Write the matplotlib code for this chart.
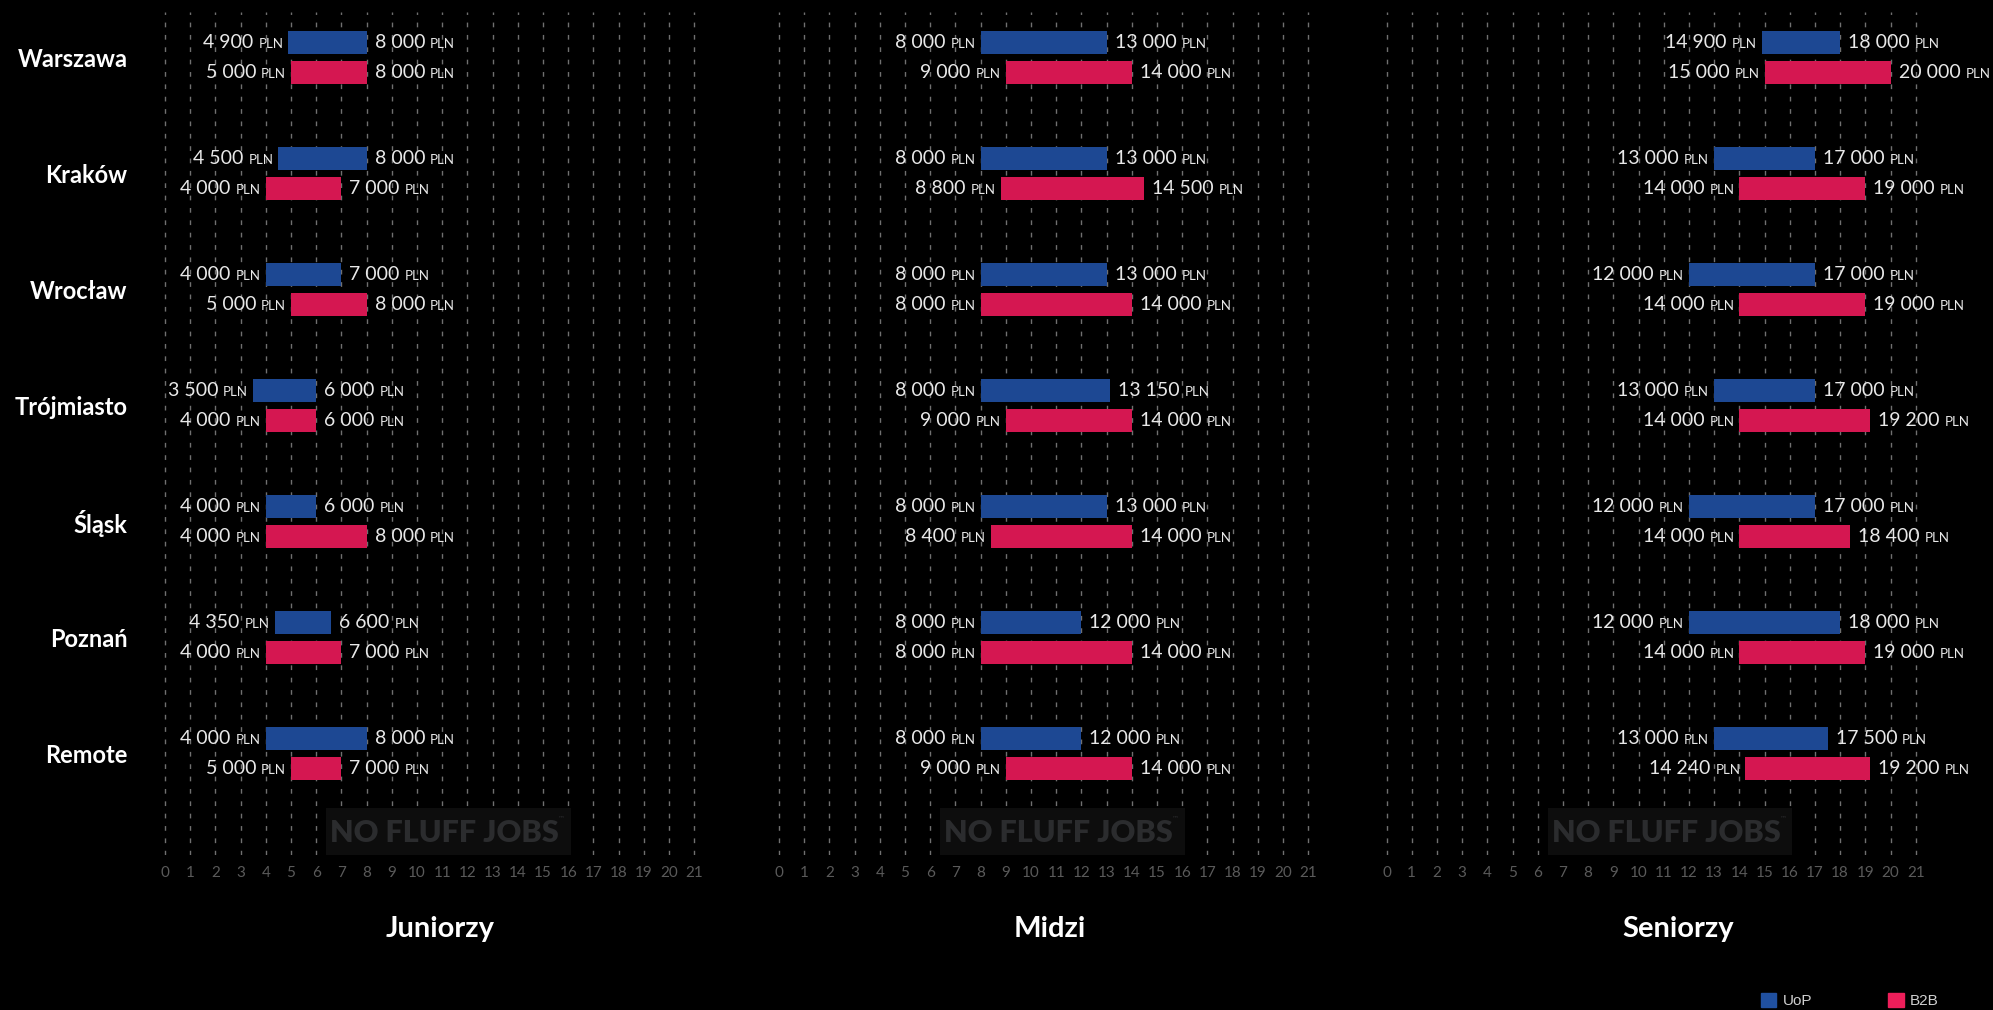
import numpy as np
import matplotlib
matplotlib.use("Agg")
import matplotlib.pyplot as plt
from matplotlib.patches import Rectangle, Patch
from matplotlib.offsetbox import TextArea, HPacker, AnnotationBbox

# ---*** DATA (PLN / month) ***---
cities = ["Warszawa", "Kraków", "Wrocław", "Trójmiasto", "Śląsk", "Poznań", "Remote"]
levels = ["Juniorzy", "Midzi", "Seniorzy"]

jun_uop_lo = [4900, 4500, 4000, 3500, 4000, 4350, 4000]
jun_uop_hi = [8000, 8000, 7000, 6000, 6000, 6600, 8000]
jun_b2b_lo = [5000, 4000, 5000, 4000, 4000, 4000, 5000]
jun_b2b_hi = [8000, 7000, 8000, 6000, 8000, 7000, 7000]

mid_uop_lo = [8000, 8000, 8000, 8000, 8000, 8000, 8000]
mid_uop_hi = [13000, 13000, 13000, 13150, 13000, 12000, 12000]
mid_b2b_lo = [9000, 8800, 8000, 9000, 8400, 8000, 9000]
mid_b2b_hi = [14000, 14500, 14000, 14000, 14000, 14000, 14000]

sen_uop_lo = [14900, 13000, 12000, 13000, 12000, 12000, 13000]
sen_uop_hi = [18000, 17000, 17000, 17000, 17000, 18000, 17500]
sen_b2b_lo = [15000, 14000, 14000, 14000, 14000, 14000, 14240]
sen_b2b_hi = [20000, 19000, 19000, 19200, 18400, 19000, 19200]

ticks = list(range(22))  # thousands

# ---*** STYLE ***---
font = "Lato"
bg = "black"
fg = "#e8e8e8"
blue = "#1d4893"
red = "#d51751"
blue_leg = "#2050a0"
red_leg = "#ee1e5a"
W, H = 1993, 1010

def money(ax, v, y, side):
	num = TextArea(f"{v:,}".replace(",", " "), textprops=dict(color=fg, fontsize=14, family=font))
	cur = TextArea("PLN", textprops=dict(color=fg, fontsize=9.5, family=font))
	box = HPacker(children=[num, cur], align="baseline", pad=0, sep=3.6)
	if side == "left":
		off, al = (-3.6, 0), (1, 0.5)
	else:
		off, al = (5.8, 0), (0, 0.5)
	ab = AnnotationBbox(box, (v / 1000, y), xybox=off, xycoords="data",
						boxcoords="offset points", box_alignment=al,
						frameon=False, annotation_clip=False, zorder=4)
	ax.add_artist(ab)

# ---*** SCRIPT ***---
fig = plt.figure(figsize=(W / 100, H / 100), dpi=100)
fig.patch.set_facecolor(bg)

panels = [
	(jun_uop_lo, jun_uop_hi, jun_b2b_lo, jun_b2b_hi),
	(mid_uop_lo, mid_uop_hi, mid_b2b_lo, mid_b2b_hi),
	(sen_uop_lo, sen_uop_hi, sen_b2b_lo, sen_b2b_hi),
]
zero_px = [165, 779, 1386.5]
title_px = [440, 1050, 1678]
unit = 25.2  # px per 1000 PLN
rows = np.arange(len(cities))

for p in range(3):
	left = (zero_px[p] - 0.5 * unit) / W
	ax = fig.add_axes([left, (H - 855) / H, 22 * unit / W, 843 / H])
	ax.set_facecolor(bg)
	ax.set_xlim(-0.5, 21.5)
	ax.set_ylim(6.876, -0.39)
	for s in ax.spines.values():
		s.set_visible(False)

	ulo, uhi, blo, bhi = [np.array(a) / 1000 for a in panels[p]]
	ax.barh(rows - 0.129, uhi - ulo, left=ulo, height=0.196, color=blue, zorder=2)
	ax.barh(rows + 0.129, bhi - blo, left=blo, height=0.196, color=red, zorder=2)

	for i in rows:
		money(ax, panels[p][0][i], i - 0.129, "left")
		money(ax, panels[p][1][i], i - 0.129, "right")
		money(ax, panels[p][2][i], i + 0.129, "left")
		money(ax, panels[p][3][i], i + 0.129, "right")

	ax.set_xticks(ticks)
	ax.set_xticklabels([str(t) for t in ticks], color="#5a5a5a", fontsize=11, family=font)
	ax.tick_params(axis="x", length=0, pad=8)
	ax.set_axisbelow(True)
	ax.grid(axis="x", color="#707070", linewidth=1, linestyle=(0, (3.4, 5.5)))

	if p == 0:
		ax.set_yticks(rows)
		ax.set_yticklabels(cities, color="white", fontsize=17, fontweight="bold", family=font)
		ax.tick_params(axis="y", length=0, pad=18)
	else:
		ax.set_yticks([])

	# watermark
	ax.add_patch(Rectangle((6.4, 6.47), 9.7, 0.45, facecolor="#0d0d0d", edgecolor="none", zorder=1.5))
	ax.text(11.1, 6.685, "NO FLUFF JOBS", color="#2b2c2e", fontsize=22, fontweight="heavy",
			family=font, ha="center", va="center", zorder=1.6)
	ax.text(15.75, 6.56, "™", color="#2b2c2e", fontsize=5, family="DejaVu Sans",
			ha="center", va="center", zorder=1.6)

	fig.text(title_px[p] / W, 1 - 929 / H, levels[p], color="white", fontsize=21,
			 fontweight="bold", family=font, ha="center", va="center")

fig.legend(handles=[Patch(color=blue_leg), Patch(color=red_leg)], labels=["UoP", "B2B"],
		   loc="lower left", bbox_to_anchor=(1761 / W, 0.002), ncol=2, frameon=False,
		   prop=dict(family="Liberation Sans", size=11), labelcolor="#d0d0d0",
		   handlelength=1.0, handleheight=1.0, handletextpad=0.4, columnspacing=5.0,
		   borderpad=0, borderaxespad=0)

plt.savefig("out.png", dpi=100, facecolor=bg)
